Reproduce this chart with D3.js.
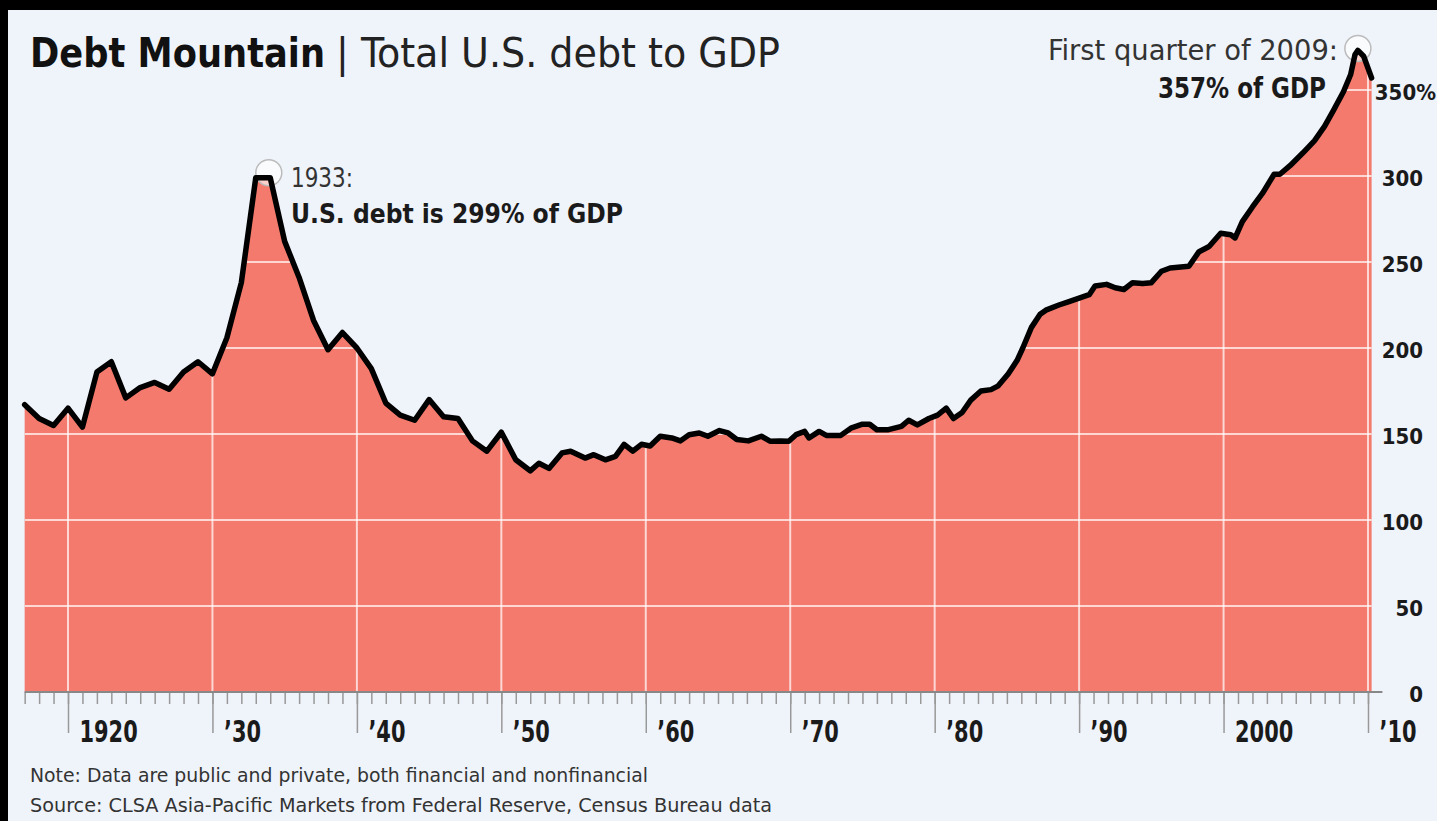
<!DOCTYPE html>
<html>
<head>
<meta charset="utf-8">
<script src="https://cdn.jsdelivr.net/npm/d3@7"></script>
<style>
    html, body { margin: 0; padding: 0; background: #000; }
    svg { display: block; }
</style>
</head>
<body>
<svg id="debt-chart" width="1437" height="821"></svg>
<script>
"use strict";

// total U.S. debt as % of GDP (annual to '51, then roughly quarterly)
var years = [
    1917, 1918, 1919, 1920, 1921, 1922, 1923, 1924, 1925, 1926,
    1927, 1928, 1929, 1930, 1931, 1932, 1933, 1934, 1935, 1936,
    1937, 1938, 1939, 1940, 1941, 1942, 1943, 1944, 1945, 1946,
    1947, 1948, 1949, 1950, 1951, 1952, 1952.6, 1953.3, 1954.2, 1954.8,
    1955.8, 1956.4, 1957.2, 1957.9, 1958.5, 1959.1, 1959.7, 1960.3, 1961, 1961.8,
    1962.4, 1963, 1963.7, 1964.3, 1965.1, 1965.7, 1966.3, 1967.1, 1968, 1968.6,
    1969.3, 1969.9, 1970.4, 1971, 1971.3, 1972, 1972.5, 1973.5, 1974.2, 1975,
    1975.5, 1976, 1976.8, 1977.7, 1978.2, 1978.8, 1979.6, 1980.2, 1980.8, 1981.3,
    1981.9, 1982.5, 1983.2, 1983.9, 1984.4, 1985.1, 1985.7, 1986.1, 1986.7, 1987.3,
    1987.7, 1988.6, 1989.3, 1990, 1990.7, 1991.1, 1991.9, 1992.5, 1993.1, 1993.7,
    1994.4, 1995, 1995.7, 1996.3, 1997.6, 1998.3, 1999, 1999.8, 2000.5, 2000.8,
    2001.3, 2002, 2002.7, 2003.5, 2003.9, 2004.6, 2005.5, 2006.3, 2007, 2007.6,
    2008.3, 2008.8, 2009.1, 2009.3, 2009.7, 2010.25
];
var debtToGdp = [
    167, 159, 155, 165, 154, 186, 192, 171, 177, 180,
    176, 186, 192, 185, 206, 238, 299, 299, 262, 241,
    216, 199, 209, 200, 188, 168, 161, 158, 170, 160,
    159, 146, 140, 151, 135, 128.6, 133, 130, 139, 140,
    136, 138, 135, 137, 144, 140, 144, 143, 148.7, 147.7,
    146, 149.6, 150.6, 148.7, 152, 150.6, 146.8, 146, 148.7, 145.8,
    146, 145.8, 149.6, 151.5, 147.7, 151.5, 149.2, 149.2, 153.4, 155.7,
    155.7, 152.5, 152.5, 154.4, 158, 155.3, 159, 161, 165, 159,
    162.5, 169.7, 175, 175.8, 178, 185, 192.7, 200, 212, 219.6,
    222, 225, 227, 229, 231, 236, 237, 235, 234, 238,
    237.5, 238, 244.6, 246.5, 247.5, 256, 259, 266.7, 265.8, 264,
    273.5, 282, 290, 301, 301, 306, 313.5, 320.6, 329, 338,
    349, 359, 370.6, 373, 369.6, 357
];

var decadeTicks = [1920, 1930, 1940, 1950, 1960, 1970, 1980, 1990, 2000, 2010];
var decadeLabels = ["1920", "\u201930", "\u201940", "\u201950", "\u201960",
                    "\u201970", "\u201980", "\u201990", "2000", "\u201910"];
var valueTicks = [0, 50, 100, 150, 200, 250, 300, 350];
var valueLabels = ["0", "50", "100", "150", "200", "250", "300", "350%"];

var FONT = "'DejaVu Sans Condensed', 'DejaVu Sans', sans-serif",
    FILL = "#f37a6c";

var svg = d3.select("#debt-chart");

// squeeze a text by a ratio (the original face is narrower than DejaVu)
var squeeze = function (sel, ratio) {
    sel.each(function () {
        var w = this.getComputedTextLength();
        d3.select(this)
            .attr("textLength", w * ratio)
            .attr("lengthAdjust", "spacingAndGlyphs");
    });
};

// or fit it to a width
var fitTo = function (sel, width) {
    sel.attr("textLength", width).attr("lengthAdjust", "spacingAndGlyphs");
};

// black frame on top/left, pale blue panel
svg.append("rect").attr("width", 1437).attr("height", 821).attr("fill", "#000");
svg.append("rect")
    .attr("x", 8).attr("y", 10)
    .attr("width", 1429).attr("height", 811)
    .attr("fill", "#eff3fa");

var x = d3.scaleLinear().domain([1920, 2010]).range([68, 1368]),
    y = d3.scaleLinear().domain([0, 350]).range([692, 90]);

var data = years.map(function (yr, i) { return { year: yr, value: debtToGdp[i] }; });

var area = d3.area()
        .x(function (d) { return x(d.year); })
        .y0(y(0))
        .y1(function (d) { return y(d.value); }),
    line = d3.line()
        .x(function (d) { return x(d.year); })
        .y(function (d) { return y(d.value); });

svg.append("defs").append("clipPath")
    .attr("id", "area-clip")
    .append("path")
    .attr("d", area(data));

svg.append("path")
    .attr("d", area(data))
    .attr("fill", FILL);

// white grid, only visible inside the mountain
var grid = svg.append("g").attr("clip-path", "url(#area-clip)");

grid.selectAll("line.h")
    .data(valueTicks.slice(1))
    .enter()
    .append("line")
    .attr("class", "h")
    .attr("x1", x(years[0])).attr("x2", x(2011))
    .attr("y1", function (d) { return y(d); })
    .attr("y2", function (d) { return y(d); })
    .attr("stroke", "#fff").attr("stroke-opacity", 0.7).attr("stroke-width", 2);

grid.selectAll("line.v")
    .data(decadeTicks)
    .enter()
    .append("line")
    .attr("class", "v")
    .attr("x1", function (d) { return x(d); })
    .attr("x2", function (d) { return x(d); })
    .attr("y1", y(0)).attr("y2", y(400))
    .attr("stroke", "#fff").attr("stroke-opacity", 0.7).attr("stroke-width", 2);

// x axis: yearly minor ticks + decade ticks with labels
var minorAxis = d3.axisBottom(x)
    .tickValues(d3.range(1917, 2011))
    .tickSize(12)
    .tickSizeOuter(0)
    .tickFormat("");

var gMinor = svg.append("g")
    .attr("transform", "translate(0," + y(0) + ")")
    .call(minorAxis);
gMinor.select(".domain").remove();
gMinor.selectAll("line").attr("stroke", "#999").attr("stroke-width", 1.5);

var majorAxis = d3.axisBottom(x)
    .tickValues(decadeTicks)
    .tickSize(41)
    .tickSizeOuter(0)
    .tickFormat(function (d, i) { return decadeLabels[i]; });

var gMajor = svg.append("g")
    .attr("transform", "translate(0," + y(0) + ")")
    .call(majorAxis);
gMajor.select(".domain").remove();
gMajor.selectAll("line").attr("stroke", "#999").attr("stroke-width", 1.5);
gMajor.selectAll("text")
    .attr("text-anchor", "start")
    .attr("x", 11)
    .attr("y", 50)
    .attr("dy", 0)
    .attr("fill", "#1a1a1a")
    .attr("font-family", FONT)
    .attr("font-weight", "bold")
    .attr("font-size", 31)
    .call(squeeze, 0.75);

svg.append("line")
    .attr("x1", x(1917)).attr("x2", x(2011))
    .attr("y1", y(0)).attr("y2", y(0))
    .attr("stroke", "#888").attr("stroke-width", 2);

// y axis on the right
var yAxis = d3.axisRight(y)
    .tickValues(valueTicks)
    .tickSize(0)
    .tickFormat(function (d, i) { return valueLabels[i]; });

var gY = svg.append("g")
    .attr("transform", "translate(" + x(2010) + ",0)")
    .call(yAxis);
gY.select(".domain").remove();
gY.selectAll("text")
    .attr("text-anchor", "end")
    .attr("x", function (d) { return d === 350 ? 68 : 55; })
    .attr("dy", "0.45em")
    .attr("fill", "#1a1a1a")
    .attr("font-family", FONT)
    .attr("font-weight", "bold")
    .attr("font-size", 22);

// peak markers, below the line
var firstPeak = d3.max(data.filter(function (d) { return d.year < 1940; }), function (d) { return d.value; }),
    lastPeak = d3.max(data, function (d) { return d.value; }),
    lastPeakYear = data.find(function (d) { return d.value === lastPeak; }).year;

var markers = [
    { cx: x(1933.9), cy: y(firstPeak) - 5 },
    { cx: x(lastPeakYear), cy: y(lastPeak) - 2 }
];

svg.selectAll("circle.peak")
    .data(markers)
    .enter()
    .append("circle")
    .attr("class", "peak")
    .attr("cx", function (d) { return d.cx; })
    .attr("cy", function (d) { return d.cy; })
    .attr("r", 13)
    .attr("fill", "#fff")
    .attr("fill-opacity", 0.65)
    .attr("stroke", "#bbb")
    .attr("stroke-width", 1.5);

// line on top
svg.append("path")
    .attr("d", line(data))
    .attr("fill", "none")
    .attr("stroke", "#000")
    .attr("stroke-width", 5.5)
    .attr("stroke-linejoin", "round")
    .attr("stroke-linecap", "round");

// annotations
var note1933 = svg.append("g")
    .attr("font-family", FONT)
    .attr("font-size", 27)
    .attr("fill", "#1a1a1a");
note1933.append("text").attr("x", 291).attr("y", 187).attr("fill", "#333").text("1933:")
    .call(fitTo, 62);
note1933.append("text").attr("x", 291).attr("y", 223).attr("font-weight", "bold")
    .text("U.S. debt is 299% of GDP")
    .call(fitTo, 332);

var note2009 = svg.append("g")
    .attr("font-family", FONT)
    .attr("font-size", 28)
    .attr("text-anchor", "end")
    .attr("fill", "#1a1a1a");
note2009.append("text").attr("x", 1338).attr("y", 60).attr("fill", "#333").text("First quarter of 2009:")
    .call(fitTo, 290);
note2009.append("text").attr("x", 1326).attr("y", 98).attr("font-weight", "bold")
    .text("357% of GDP")
    .call(fitTo, 168);

// title
var title = svg.append("g")
    .attr("font-family", FONT)
    .attr("font-size", 41)
    .attr("fill", "#111");
title.append("text").attr("x", 30).attr("y", 67).attr("font-weight", "bold")
    .text("Debt Mountain")
    .call(fitTo, 295);
title.append("text").attr("x", 336).attr("y", 67).attr("fill", "#222")
    .text("| Total U.S. debt to GDP")
    .call(fitTo, 444);

// footnotes
var foot = svg.append("g")
    .attr("font-family", FONT)
    .attr("font-size", 20)
    .attr("fill", "#333");
foot.append("text").attr("x", 30).attr("y", 782)
    .text("Note: Data are public and private, both financial and nonfinancial")
    .call(fitTo, 618);
foot.append("text").attr("x", 30).attr("y", 812)
    .text("Source: CLSA Asia-Pacific Markets from Federal Reserve, Census Bureau data")
    .call(fitTo, 742);
</script>
</body>
</html>
